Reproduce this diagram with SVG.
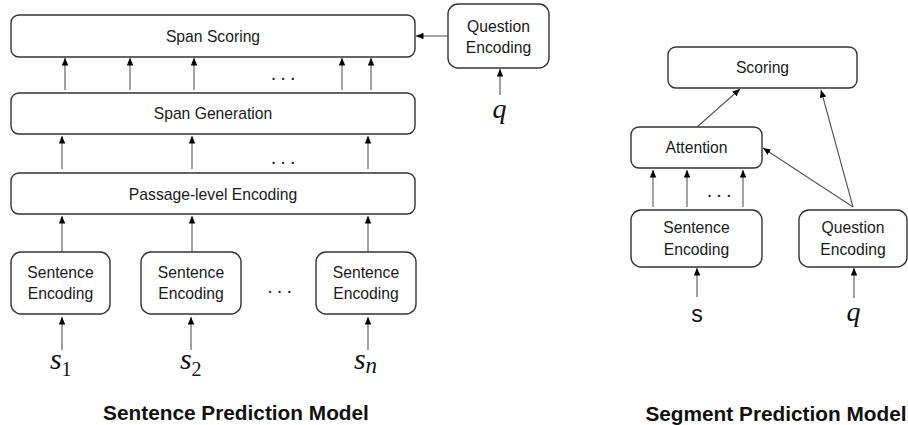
<svg xmlns="http://www.w3.org/2000/svg" width="908" height="425" viewBox="0 0 908 425">
<defs>
<marker id="ah" markerUnits="userSpaceOnUse" markerWidth="8" markerHeight="7" refX="7.5" refY="3.25" orient="auto">
<path d="M0,0 L7.5,3.25 L0,6.5 z" fill="#000"/>
</marker>
<style>
.box{fill:#fff;stroke:#333;stroke-width:1.4}
.lbl{font-family:"Liberation Sans",Arial,sans-serif;font-size:15.7px;fill:#1a1a1a;text-anchor:middle}
.dots{font-family:"Liberation Sans",Arial,sans-serif;font-size:20px;fill:#1a1a1a;letter-spacing:4.1px}
.math{font-family:"Liberation Serif","Times New Roman",serif;font-style:italic;font-size:30px;fill:#111}
.sub{font-family:"Liberation Serif","Times New Roman",serif;font-size:20px;fill:#111}
.title{font-family:"Liberation Sans",Arial,sans-serif;font-weight:bold;font-size:20.8px;fill:#111;text-anchor:middle}
.con line{stroke:#555;stroke-width:1.1;marker-end:url(#ah)}
</style>
</defs>

<g id="span-scoring"><rect class="box" x="11" y="15" width="404" height="42" rx="8"/><text class="lbl" x="213" y="42">Span Scoring</text></g>
<g id="span-generation"><rect class="box" x="11" y="93" width="404" height="41" rx="8"/><text class="lbl" x="213" y="119">Span Generation</text></g>
<g id="passage-encoding"><rect class="box" x="11" y="173" width="404" height="41" rx="8"/><text class="lbl" x="213" y="200">Passage-level Encoding</text></g>
<g id="sent-enc-1"><rect class="box" x="11" y="252" width="99" height="62" rx="10"/><text class="lbl" x="60.5" y="278">Sentence</text><text class="lbl" x="60.5" y="299">Encoding</text></g>
<g id="sent-enc-2"><rect class="box" x="141" y="252" width="100" height="62" rx="10"/><text class="lbl" x="191" y="278">Sentence</text><text class="lbl" x="191" y="299">Encoding</text></g>
<g id="sent-enc-n"><rect class="box" x="316" y="252" width="100" height="62" rx="10"/><text class="lbl" x="366" y="278">Sentence</text><text class="lbl" x="366" y="299">Encoding</text></g>
<g id="question-enc-left"><rect class="box" x="448" y="4" width="101" height="64" rx="10"/><text class="lbl" x="498.5" y="32">Question</text><text class="lbl" x="498.5" y="53">Encoding</text></g>

<g id="scoring"><rect class="box" x="668" y="47" width="189" height="41" rx="8"/><text class="lbl" x="762.5" y="73">Scoring</text></g>
<g id="attention"><rect class="box" x="631" y="127" width="131" height="41" rx="8"/><text class="lbl" x="696.5" y="153">Attention</text></g>
<g id="sent-enc-right"><rect class="box" x="631" y="210" width="131" height="57" rx="10"/><text class="lbl" x="696.5" y="233">Sentence</text><text class="lbl" x="696.5" y="255">Encoding</text></g>
<g id="question-enc-right"><rect class="box" x="799" y="210" width="108" height="57" rx="10"/><text class="lbl" x="853" y="233">Question</text><text class="lbl" x="853" y="255">Encoding</text></g>

<g class="con" id="connectors">
<line x1="65" y1="90" x2="65" y2="58"/>
<line x1="130" y1="90" x2="130" y2="58"/>
<line x1="194" y1="90" x2="194" y2="58"/>
<line x1="342" y1="90" x2="342" y2="58"/>
<line x1="371" y1="90" x2="371" y2="58"/>
<line x1="62" y1="169" x2="62" y2="136"/>
<line x1="192" y1="169" x2="192" y2="136"/>
<line x1="368" y1="169" x2="368" y2="136"/>
<line x1="62" y1="252" x2="62" y2="216"/>
<line x1="192" y1="252" x2="192" y2="216"/>
<line x1="368" y1="252" x2="368" y2="216"/>
<line x1="62" y1="350" x2="62" y2="317"/>
<line x1="191" y1="350" x2="191" y2="317"/>
<line x1="368" y1="350" x2="368" y2="317"/>
<line x1="448" y1="36" x2="416" y2="36"/>
<line x1="500" y1="95" x2="500" y2="69"/>
<line x1="653" y1="207" x2="653" y2="170"/>
<line x1="687" y1="207" x2="687" y2="170"/>
<line x1="743" y1="207" x2="743" y2="170"/>
<line x1="697" y1="127" x2="740" y2="89"/>
<line x1="853" y1="207" x2="763" y2="148"/>
<line x1="853" y1="207" x2="821" y2="90"/>
<line x1="697" y1="297" x2="697" y2="268"/>
<line x1="854" y1="298" x2="854" y2="268"/>
</g>

<text class="dots" x="270.7" y="79.5">...</text>
<text class="dots" x="270.7" y="163.5">...</text>
<text class="dots" x="267.2" y="292.5">...</text>
<text class="dots" x="706.7" y="196.5">...</text>

<text class="math" x="50" y="369">s</text><text class="sub" x="61.5" y="376">1</text>
<text class="math" x="180" y="369">s</text><text class="sub" x="191.5" y="376">2</text>
<text class="math" x="354" y="369">s</text><text class="math" x="365.5" y="373" style="font-size:23px">n</text>
<text class="math" x="499.5" y="118" text-anchor="middle" style="font-size:28px">q</text>
<text x="697" y="322" text-anchor="middle" style="font-family:'Liberation Sans',Arial,sans-serif;font-size:23px;fill:#111">s</text>
<text class="math" x="853.5" y="321" text-anchor="middle" style="font-size:28px">q</text>

<text class="title" x="236" y="420">Sentence Prediction Model</text>
<text class="title" x="776" y="421">Segment Prediction Model</text>
</svg>
